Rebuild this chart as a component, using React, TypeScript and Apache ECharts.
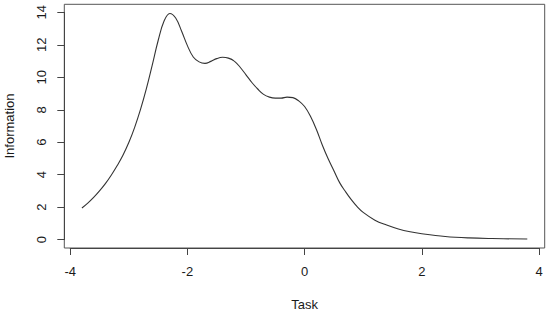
import React, { useEffect, useRef } from "react";
import * as echarts from "echarts";

const taskX: number[] = [
  -3.8, -3.7, -3.6, -3.5, -3.4, -3.3, -3.2, -3.1, -3.0, -2.9, -2.8, -2.7, -2.6,
  -2.5, -2.4, -2.3, -2.2, -2.1, -2.0, -1.9, -1.8, -1.7, -1.6, -1.5, -1.4, -1.3,
  -1.2, -1.1, -1.0, -0.9, -0.8, -0.7, -0.6, -0.5, -0.4, -0.3, -0.2, -0.1, 0.0,
  0.1, 0.2, 0.3, 0.4, 0.5, 0.6, 0.7, 0.8, 0.9, 1.0, 1.2, 1.4, 1.6, 1.8, 2.0,
  2.4, 2.8, 3.2, 3.8,
];
const information: number[] = [
  1.95, 2.25, 2.6, 3.0, 3.45, 3.97, 4.55, 5.2, 5.98, 6.92, 8.02, 9.3, 10.75,
  12.25, 13.45, 13.93, 13.65, 12.85, 11.95, 11.25, 10.95, 10.86, 10.98, 11.15,
  11.23, 11.18, 11.0, 10.62, 10.15, 9.68, 9.28, 8.95, 8.78, 8.72, 8.72, 8.78,
  8.75, 8.55, 8.2, 7.6, 6.8, 5.85, 5.0, 4.25, 3.5, 2.95, 2.45, 2.02, 1.68, 1.2,
  0.9, 0.66, 0.49, 0.37, 0.2, 0.11, 0.07, 0.04,
];
const xTicks = { min: -4, max: 4, step: 2 };
const yTicks = { min: 0, max: 14, step: 2 };
const xTitle = "Task";
const yTitle = "Information";

export default function App() {
  const ref = useRef<HTMLDivElement>(null);
  useEffect(() => {
    if (!ref.current) return;
    const chart = echarts.init(ref.current, null, { renderer: "svg" });
    const font = "Liberation Sans, Arial, sans-serif";
    const textColor = "#1a1a1a";
    const lineColor = "#444";
    chart.setOption({
      animation: false,
      backgroundColor: "#fff",
      grid: [
        {
          left: 64.3,
          right: 5.3,
          top: 4.3,
          bottom: 65,
          show: true,
          borderColor: "#555",
          borderWidth: 1,
          backgroundColor: "transparent",
          containLabel: false,
          outerBoundsMode: "none",
        },
        {
          left: 70.2,
          right: 11,
          top: 12.34,
          bottom: 73.3,
          containLabel: false,
          outerBoundsMode: "none",
        },
      ],
      xAxis: [
        { type: "value", gridIndex: 0, min: 0, max: 1, show: false },
        {
          type: "value",
          gridIndex: 1,
          min: xTicks.min,
          max: xTicks.max,
          interval: xTicks.step,
          position: "bottom",
          offset: 8.3,
          splitLine: { show: false },
          axisLine: { show: true, onZero: false, lineStyle: { color: lineColor, width: 1 } },
          axisTick: { show: true, inside: false, length: 7, lineStyle: { color: lineColor } },
          axisLabel: { color: textColor, fontFamily: font, fontSize: 13, margin: 17 },
          name: xTitle,
          nameLocation: "middle",
          nameGap: 50,
          nameTextStyle: { color: textColor, fontFamily: font, fontSize: 13 },
        },
      ],
      yAxis: [
        { type: "value", gridIndex: 0, min: 0, max: 1, show: false },
        {
          type: "value",
          gridIndex: 1,
          min: yTicks.min,
          max: yTicks.max,
          interval: yTicks.step,
          position: "left",
          offset: 5.9,
          splitLine: { show: false },
          axisLine: { show: true, onZero: false, lineStyle: { color: lineColor, width: 1 } },
          axisTick: { show: true, inside: false, length: 7, lineStyle: { color: lineColor } },
          axisLabel: { color: textColor, fontFamily: font, fontSize: 13, margin: 16, rotate: 90 },
          name: yTitle,
          nameLocation: "middle",
          nameGap: 48,
          nameTextStyle: { color: textColor, fontFamily: font, fontSize: 13 },
        },
      ],
      series: [
        {
          type: "line",
          xAxisIndex: 1,
          yAxisIndex: 1,
          data: taskX.map((x, i) => [x, information[i]]),
          smooth: 0.4,
          showSymbol: false,
          clip: false,
          lineStyle: { color: "#333", width: 1.1 },
        },
      ],
    });
    return () => chart.dispose();
  }, []);
  return <div ref={ref} style={{ width: 550, height: 313, position: "fixed", left: 0, top: 0 }} />;
}
